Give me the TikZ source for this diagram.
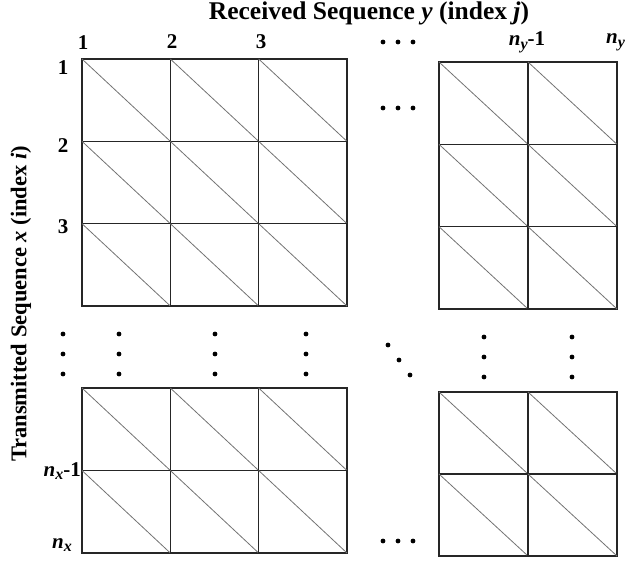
\documentclass[tikz,border=0pt]{standalone}
\usepackage{fontspec}
\setmainfont{Liberation Serif}
\usetikzlibrary{calc}
\newcommand{\lbl}{\fontsize{21}{23}\selectfont\bfseries}
\newcommand{\ttl}{\fontsize{25.5}{27}\selectfont\bfseries}
\newcommand{\vttl}{\fontsize{22.5}{24}\selectfont\bfseries}
\newcommand{\nsub}[1]{\textit{n}\raisebox{-0.4ex}{\fontsize{16}{16}\selectfont\textit{#1}}}
% one block of cells: corner x, corner y, columns, rows, width, height
\newcommand{\cellblock}[6]{%
    \foreach \c in {1,...,#3}{
        \foreach \r in {1,...,#4}{
            \draw[cellline] ({#1+(\c-1)*#5},{#2+(\r-1)*#6}) rectangle ++(#5,#6);
            \draw[diagline] ({#1+(\c-1)*#5},{#2+(\r-1)*#6}) -- ++(#5,#6);
        }
    }}

\begin{document}
\begin{tikzpicture}[x=1pt,y=-1pt,
        cellline/.style={line width=1.4pt, black!85},
        diagline/.style={line width=0.8pt, black!55},
        pt/.style={circle, fill=black, inner sep=0pt, minimum size=4.8pt}]
            \useasboundingbox (0,0) rectangle (626,565);

            % titles
            \node (rx) at (369, 13) {\ttl Received Sequence \textit{y} (index \textit{j})};
            \node[rotate=90] (tx) at (21, 304) {\vttl Transmitted Sequence \textit{x} (index \textit{i})};

            % column labels
            \node (c1) at (83, 43) {\lbl 1};
            \node (c2) at (172, 42) {\lbl 2};
            \node (c3) at (261, 42) {\lbl 3};
            \node (cm) at (527, 42) {\lbl \nsub{y}-1};
            \node[anchor=west, inner sep=0pt] (cn) at (606, 42) {\lbl \nsub{y}};

            % row labels
            \node (r1) at (63, 68) {\lbl 1};
            \node (r2) at (63, 146) {\lbl 2};
            \node (r3) at (63, 227) {\lbl 3};
            \node[anchor=east, inner sep=0pt] (rm) at (81, 471) {\lbl \nsub{x}-1};
            \node[anchor=east, inner sep=0pt] (rn) at (72, 545) {\lbl \nsub{x}};

            % the four blocks of cells
            \cellblock{82}{59}{3}{3}{88.33}{82.33}
            \cellblock{439}{62}{2}{3}{89}{82.33}
            \cellblock{82}{388}{3}{2}{88.33}{82.5}
            \cellblock{439}{392}{2}{2}{89}{82}

            % horizontal dots
            \foreach \x in {383, 398, 413} {
                \node[pt] at (\x, 42) {};
                \node[pt] at (\x, 108) {};
                \node[pt] at (\x, 541) {};
            }

            % vertical dots
            \foreach \x in {63, 119, 215, 306} {
                \foreach \y in {334, 354, 374}
                    \node[pt] at (\x, \y) {};
            }
            \foreach \x in {484, 572} {
                \foreach \y in {337, 357, 377}
                    \node[pt] at (\x, \y) {};
            }

            % diagonal dots
            \node[pt] (d1) at (388, 345) {};
            \node[pt] (d2) at (399, 360) {};
            \node[pt] (d3) at (410, 375) {};
\end{tikzpicture}
\end{document}
